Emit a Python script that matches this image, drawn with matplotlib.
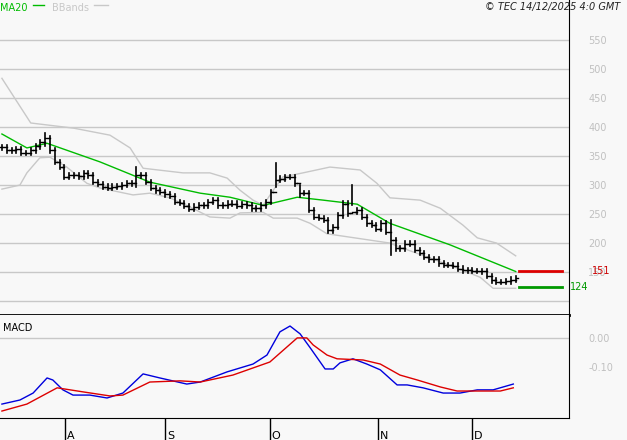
import matplotlib
matplotlib.use("Agg")
import matplotlib.pyplot as plt
import numpy as np

# daily closes (trading-day index 0..107)
closes = [365, 360, 360, 362, 355, 355, 360, 367, 374, 381,
          360, 340, 331, 314, 317, 317, 315, 320, 317, 305,
          302, 297, 295, 297, 298, 300, 303, 303, 317, 317,
          305, 295, 291, 288, 284, 281, 271, 269, 264, 259,
          263, 265, 265, 271, 274, 265, 265, 268, 268, 264,
          267, 265, 260, 260, 265, 271, 288, 309, 311, 314,
          314, 303, 286, 286, 257, 245, 243, 240, 222, 228,
          248, 268, 251, 254, 257, 245, 234, 231, 225, 234,
          219, 205, 191, 191, 199, 199, 188, 183, 176, 172,
          172, 165, 162, 162, 161, 156, 153, 153, 152, 152,
          151, 143, 136, 133, 133, 134, 137, 139]
# the few long bars: index -> (high, low)
long_bars = {9: (390, 368), 28: (331, 297), 57: (338, 297),
             62: (300, 280), 73: (300, 265), 81: (240, 179)}

ma_idx = [0, 5.2, 9.4, 20.4, 30.8, 41.3, 47.5, 54.4, 61.5, 66.9, 74, 80.8, 93.3, 107]
ma20 = [388, 364, 372, 340, 305, 286, 279, 265, 279, 274, 267, 234, 197, 151]

up_idx = [0, 6, 15, 22.5, 26.7, 29.4, 37.7, 43.3, 46.9, 49.6, 52.3, 54.4, 56.5, 58.5,
          62.7, 68.3, 74.6, 78.1, 80.8, 87.1, 91.3, 96, 99, 103, 107]
upper = [484, 407, 398, 386, 364, 329, 321, 321, 312, 291, 274, 265, 291, 314,
         321, 331, 326, 303, 278, 274, 260, 231, 209, 200, 178]
lo_idx = [0, 3.75, 5.2, 7.9, 10, 13.5, 17.7, 20.4, 27.3, 30.8, 35, 39.2, 43.3, 47.5,
          49.6, 54.4, 56.5, 61.5, 64.2, 67.7, 80.8, 82.9, 89.2, 94.8, 99.6, 102.3, 107]
lower = [293, 300, 321, 347, 348, 331, 303, 295, 283, 286, 278, 262, 245, 243,
         252, 253, 243, 243, 234, 216, 200, 193, 174, 157, 141, 122, 122]

macd_idx = [0, 3.75, 6.5, 9.4, 10.6, 12.7, 14.8, 18.3, 21.9, 25.2, 29.4, 32.9, 38.5,
            41.3, 46.9, 52.3, 55.2, 57.9, 60, 62.1, 64.2, 67.3, 69, 70.4, 73.1, 76,
            78.8, 82.3, 84.4, 87.7, 91.9, 95.4, 99, 102.3, 106.5]
macd = [-0.228, -0.214, -0.190, -0.138, -0.145, -0.179, -0.197, -0.197, -0.207,
        -0.190, -0.124, -0.138, -0.159, -0.152, -0.117, -0.090, -0.059, 0.021,
        0.041, 0.014, -0.034, -0.107, -0.107, -0.086, -0.072, -0.090, -0.110,
        -0.162, -0.162, -0.172, -0.190, -0.190, -0.179, -0.179, -0.159]
sig_idx = [0, 5.2, 11.5, 16.9, 22.5, 25.2, 30.8, 37.1, 41.3, 48.1, 55.8, 61.5,
           63.5, 64.8, 67.7, 69.8, 75.2, 78.8, 82.9, 86.5, 91.3, 94.8, 103.8, 106.5]
signal = [-0.252, -0.228, -0.172, -0.186, -0.200, -0.197, -0.152, -0.148, -0.152,
          -0.128, -0.083, 0.0, 0.0, -0.024, -0.059, -0.072, -0.076, -0.090, -0.128,
          -0.145, -0.169, -0.183, -0.183, -0.172]

month_idx = [13.1, 34, 55.8, 78.3, 97.9]
month_lbl = ["A", "S", "O", "N", "D"]
last_ma, last_low = 151, 124

bg = "#f8f8f8"
grid = "#c8c8c8"
lbl = "#c0c0c0"
plt.rcParams["font.family"] = ["DejaVu Sans"]

fig = plt.figure(figsize=(6.27, 4.4), dpi=100, facecolor=bg)
x0, x1 = -0.4, 118.1
ax = fig.add_axes([0, 1 - 315 / 440, 569 / 627, 315 / 440], facecolor=bg)
ax2 = fig.add_axes([0, 1 - 418 / 440, 569 / 627, 103 / 440], facecolor=bg)

# main price panel
ax.set_xlim(x0, x1)
ax.set_ylim(76, 619)
for v in range(100, 600, 50):
    ax.axhline(v, color=grid, lw=1, zorder=0)
ax.plot(up_idx, upper, color="#c8c8c8", lw=1)
ax.plot(lo_idx, lower, color="#c8c8c8", lw=1)
ax.plot(ma_idx, ma20, color="#00bb00", lw=1)
for i, c in enumerate(closes):
    o = closes[i - 1] if i > 0 else c
    hi, lo = long_bars.get(i, (max(o, c) + 4, min(o, c) - 4))
    ax.plot([i, i], [lo, hi], color="black", lw=1.2)
    ax.plot([i - 0.45, i], [o, o], color="black", lw=1)
    ax.plot([i, i + 0.45], [c, c], color="black", lw=1)
ax.plot([107.7, 116.7], [last_ma, last_ma], color="#dd0000", lw=2)
ax.plot([107.7, 116.7], [last_low, last_low], color="#009900", lw=2)
ax.text(1.04, last_ma, str(last_ma), color="#cc0000", fontsize=7, va="center",
        transform=ax.get_yaxis_transform())
ax.text(1.002, last_low, str(last_low), color="#009900", fontsize=7, va="center",
        transform=ax.get_yaxis_transform())

ax.yaxis.tick_right()
ax.set_yticks(range(150, 600, 50))
ax.tick_params(axis="y", length=0, pad=14, labelsize=7, labelcolor=lbl)
ax.set_xticks([])
for s in ["top", "left", "bottom"]:
    ax.spines[s].set_visible(False)
ax.spines["right"].set_color("black")
ax.spines["bottom"].set_visible(True)
ax.spines["bottom"].set_linewidth(2)

ax.text(0.0, 0.99, "MA20", color="#00bb00", fontsize=7, va="top", transform=ax.transAxes)
ax.plot([0.058, 0.078], [0.983, 0.983], color="#00bb00", lw=1, transform=ax.transAxes)
ax.text(0.092, 0.99, "BBands", color="#c8c8c8", fontsize=7, va="top", transform=ax.transAxes)
ax.plot([0.166, 0.19], [0.983, 0.983], color="#c8c8c8", lw=1, transform=ax.transAxes)
fig.text(0.99, 0.995, "© TEC 14/12/2025 4:0 GMT", fontsize=7, style="italic",
         ha="right", va="top", color="#222222")

# MACD panel
ax2.set_xlim(x0, x1)
ax2.set_ylim(-0.276, 0.079)
ax2.axhline(0, color=grid, lw=1, zorder=0)
ax2.plot(macd_idx, macd, color="#0000dd", lw=1)
ax2.plot(sig_idx, signal, color="#dd0000", lw=1)
ax2.text(0.005, 0.92, "MACD", fontsize=7, va="top", transform=ax2.transAxes)
ax2.yaxis.tick_right()
ax2.set_yticks([0.0, -0.1])
ax2.set_yticklabels(["0.00", "-0.10"])
ax2.tick_params(axis="y", length=0, pad=14, labelsize=7, labelcolor=lbl)
ax2.set_xticks(month_idx)
ax2.set_xticklabels(month_lbl, ha="left")
ax2.tick_params(axis="x", direction="out", length=18, width=1, pad=-9, labelsize=8)
for t in ax2.get_xticklabels():
    t.set_x(0)
import matplotlib.transforms as mt
off = mt.ScaledTranslation(2 / 100, 0, fig.dpi_scale_trans)
for t in ax2.get_xticklabels():
    t.set_transform(t.get_transform() + off)
for s in ["top", "left"]:
    ax2.spines[s].set_visible(False)

fig.savefig("out.png", dpi=100, facecolor=bg)
